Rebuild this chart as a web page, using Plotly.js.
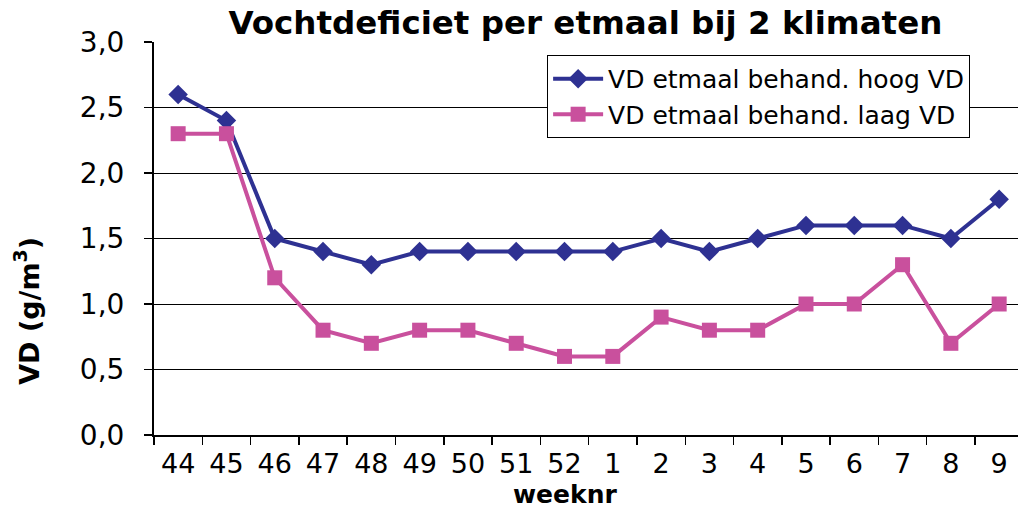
<!DOCTYPE html>
<html>
<head>
<meta charset="utf-8">
<script src="https://cdn.plot.ly/plotly-3.0.1.min.js"></script>
<style>html,body{margin:0;padding:0;background:#fff;}#chart{width:1018px;height:508px;}</style>
</head>
<body>
<div id="chart"></div>
<script>
const weeks = ["44","45","46","47","48","49","50","51","52","1","2","3","4","5","6","7","8","9"];
const hoogVD = [2.6, 2.4, 1.5, 1.4, 1.3, 1.4, 1.4, 1.4, 1.4, 1.4, 1.5, 1.4, 1.5, 1.6, 1.6, 1.6, 1.5, 1.8];
const laagVD = [2.3, 2.3, 1.2, 0.8, 0.7, 0.8, 0.8, 0.7, 0.6, 0.6, 0.9, 0.8, 0.8, 1.0, 1.0, 1.3, 0.7, 1.0];
const yTicks = [0, 0.5, 1.0, 1.5, 2.0, 2.5, 3.0];

const font = "DejaVu Sans, Verdana, sans-serif";
const traces = [
  {x: weeks, y: hoogVD, name: "VD etmaal behand. hoog VD", type: "scatter", mode: "lines+markers",
   line: {color: "#2E3192", width: 4}, marker: {symbol: "diamond", size: 15, color: "#2E3192"}},
  {x: weeks, y: laagVD, name: "VD etmaal behand. laag VD", type: "scatter", mode: "lines+markers",
   line: {color: "#C9509D", width: 4}, marker: {symbol: "square", size: 15, color: "#C9509D"}}
];
const layout = {
  width: 1018, height: 508,
  margin: {l: 154, r: 0, t: 42, b: 73},
  paper_bgcolor: "#fff", plot_bgcolor: "#fff",
  separators: ", ",
  showlegend: true,
  title: {text: "<b>Vochtdeficiet per etmaal bij 2 klimaten</b>", font: {family: font, size: 32.5, color: "#000"},
          x: 0.575, xref: "container", xanchor: "center", y: 0.955, yref: "container", yanchor: "middle"},
  xaxis: {type: "category", range: [-0.5, 17.39], tickson: "boundaries", ticks: "outside", ticklen: 8, tickwidth: 1.5,
          tickcolor: "#000", showline: true, linecolor: "#000", linewidth: 2, showgrid: false, zeroline: false,
          tickfont: {family: font, size: 27, color: "#000"}, ticklabelstandoff: 4, automargin: false},
  yaxis: {range: [0, 3.0], tickvals: yTicks, tickformat: ".1f", ticks: "outside", ticklen: 8, tickwidth: 1.5,
          tickcolor: "#000", showline: true, linecolor: "#000", linewidth: 2, showgrid: true, gridcolor: "#000",
          gridwidth: 1, zeroline: false, tickfont: {family: font, size: 28, color: "#000"},
          ticklabelstandoff: 14, automargin: false},
  annotations: [
    {text: "<b>weeknr</b>", xref: "paper", yref: "paper", x: 0.476, y: -0.151, xanchor: "center", yanchor: "middle",
     showarrow: false, font: {family: font, size: 25, color: "#000"}},
    {text: "<b>VD (g/m<sup>3</sup>)</b>", xref: "paper", yref: "paper", x: -0.147, y: 0.316, xanchor: "center",
     yanchor: "middle", textangle: -90, showarrow: false, font: {family: font, size: 27, color: "#000"}}
  ],
  legend: {x: 0.455, xanchor: "left", y: 0.967, yanchor: "top", bgcolor: "#fff", bordercolor: "#000", borderwidth: 1,
           font: {family: font, size: 25, color: "#000"}, tracegroupgap: 0, itemwidth: 50}
};
Plotly.newPlot("chart", traces, layout, {staticPlot: true});
</script>
</body>
</html>
